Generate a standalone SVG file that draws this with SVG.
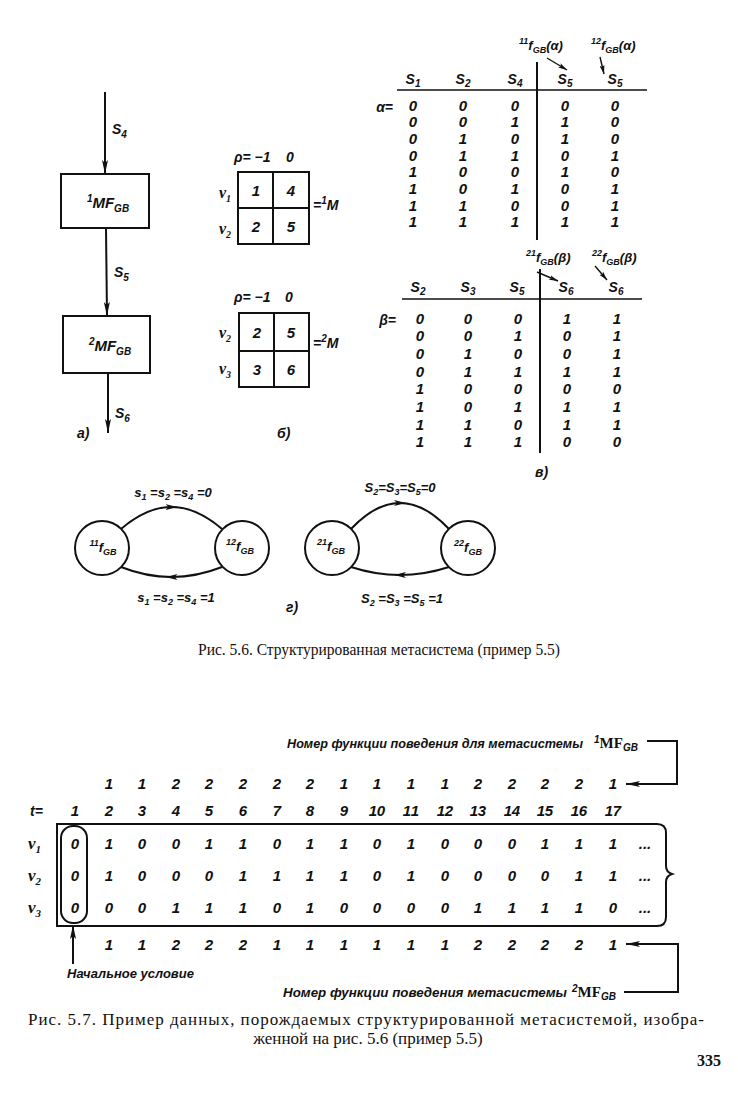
<svg xmlns="http://www.w3.org/2000/svg" width="738" height="1107" viewBox="0 0 738 1107">
<style>
text{fill:#111}
.i{font-family:"Liberation Sans",Arial,sans-serif;font-style:italic;font-weight:bold}
.s{font-family:"Liberation Serif","Times New Roman",serif}
.v{font-family:"Liberation Serif","Times New Roman",serif;font-style:italic;font-weight:bold}
.d{font-size:15px;text-anchor:middle}
.lab{font-size:14px}
.m{text-anchor:middle}
.ln{stroke:#111;stroke-width:2;fill:none}
.thin{stroke:#111;stroke-width:1.4;fill:none}
.bx{fill:none;stroke:#111;stroke-width:2}
.nd{fill:#fff;stroke:#111;stroke-width:2}
</style>
<defs>
<marker id="ah" viewBox="0 0 14 6" refX="14" refY="3" markerWidth="14" markerHeight="6" markerUnits="userSpaceOnUse" orient="auto"><path d="M0,0 L14,3 L0,6 L3,3 Z" fill="#111"/></marker>
<marker id="as" viewBox="0 0 9 5" refX="9" refY="2.5" markerWidth="9" markerHeight="5" markerUnits="userSpaceOnUse" orient="auto"><path d="M0,0 L9,2.5 L0,5 L2,2.5 Z" fill="#111"/></marker>
<marker id="am" viewBox="0 0 12 6" refX="6" refY="3" markerWidth="12" markerHeight="6" markerUnits="userSpaceOnUse" orient="auto"><path d="M0,0 L12,3 L0,6 L3,3 Z" fill="#111"/></marker>
</defs>
<rect width="738" height="1107" fill="#fff"/>

<!-- part a -->
<g id="a-connectors">
<line class="ln" x1="105" y1="92" x2="105" y2="174" marker-end="url(#ah)"/>
<line class="ln" x1="106" y1="228" x2="107" y2="316" marker-end="url(#ah)"/>
<line class="ln" x1="108" y1="373" x2="108" y2="433" marker-end="url(#ah)"/>
<text class="i lab" x="112" y="134">S<tspan font-size="10" dy="4">4</tspan></text>
<text class="i lab" x="114" y="277">S<tspan font-size="10" dy="4">5</tspan></text>
<text class="i lab" x="115" y="418">S<tspan font-size="10" dy="4">6</tspan></text>
</g>
<g id="mf1">
<rect class="bx" x="61" y="174" width="88" height="54"/>
<text class="i m" x="108" y="208" font-size="15"><tspan font-size="10" dy="-6">1</tspan><tspan dy="6">MF</tspan><tspan font-size="10" dy="4">GB</tspan></text>
</g>
<g id="mf2">
<rect class="bx" x="63" y="316" width="87" height="57"/>
<text class="i m" x="110" y="351" font-size="15"><tspan font-size="10" dy="-6">2</tspan><tspan dy="6">MF</tspan><tspan font-size="10" dy="4">GB</tspan></text>
</g>
<text class="i lab" x="77" y="438">а)</text>

<!-- part b -->
<g id="m1">
<text class="i lab" x="234" y="162">ρ= −1</text>
<text class="i lab m" x="290" y="162">0</text>
<rect class="bx" x="238" y="172" width="71" height="72"/>
<line class="ln" x1="273" y1="172" x2="273" y2="244"/>
<line class="ln" x1="238" y1="208" x2="309" y2="208"/>
<text class="i d" x="256 291" y="196">14</text>
<text class="i d" x="256 291" y="232">25</text>
<text class="v" x="219" y="198" font-size="16">v<tspan font-size="10" dy="4">1</tspan></text>
<text class="v" x="219" y="234" font-size="16">v<tspan font-size="10" dy="4">2</tspan></text>
<text class="i lab" x="313" y="210">=<tspan font-size="10" dy="-6">1</tspan><tspan dy="6">M</tspan></text>
</g>
<g id="m2">
<text class="i lab" x="234" y="302">ρ= −1</text>
<text class="i lab m" x="289" y="302">0</text>
<rect class="bx" x="239" y="313" width="70" height="74"/>
<line class="ln" x1="274" y1="313" x2="274" y2="387"/>
<line class="ln" x1="239" y1="351" x2="309" y2="351"/>
<text class="i d" x="257 291" y="338">25</text>
<text class="i d" x="257 291" y="375">36</text>
<text class="v" x="219" y="338" font-size="16">v<tspan font-size="10" dy="4">2</tspan></text>
<text class="v" x="219" y="374" font-size="16">v<tspan font-size="10" dy="4">3</tspan></text>
<text class="i lab" x="313" y="348">=<tspan font-size="10" dy="-6">2</tspan><tspan dy="6">M</tspan></text>
</g>
<text class="i lab" x="277" y="438">б)</text>

<!-- part v: alpha -->
<g id="alpha">
<text class="i lab" x="393" y="112" text-anchor="end" font-size="15">α=</text>
<text class="i m" x="413" y="84" font-size="14">S<tspan font-size="10" dy="3">1</tspan></text>
<text class="i m" x="463" y="84" font-size="14">S<tspan font-size="10" dy="3">2</tspan></text>
<text class="i m" x="515" y="84" font-size="14">S<tspan font-size="10" dy="3">4</tspan></text>
<text class="i m" x="565" y="84" font-size="14">S<tspan font-size="10" dy="3">5</tspan></text>
<text class="i m" x="615" y="84" font-size="14">S<tspan font-size="10" dy="3">5</tspan></text>
<line class="thin" x1="397" y1="90" x2="647" y2="90"/>
<line class="ln" x1="537" y1="62" x2="537" y2="240"/>
<text class="i" x="519" y="50" font-size="13"><tspan font-size="9" dy="-6">11</tspan><tspan dy="6">f</tspan><tspan font-size="9" dy="3">GB</tspan><tspan dy="-3">(α)</tspan></text>
<text class="i" x="591" y="50" font-size="13"><tspan font-size="9" dy="-6">12</tspan><tspan dy="6">f</tspan><tspan font-size="9" dy="3">GB</tspan><tspan dy="-3">(α)</tspan></text>
<line class="thin" x1="547" y1="58" x2="567" y2="70" marker-end="url(#as)"/>
<line class="thin" x1="600" y1="57" x2="604" y2="74" marker-end="url(#as)"/>
<text class="i d" x="413 438 463 489 515 540 565 590 615" y="110.5">0 0 0 0 0</text>
<text class="i d" x="413 438 463 489 515 540 565 590 615" y="127.2">0 0 1 1 0</text>
<text class="i d" x="413 438 463 489 515 540 565 590 615" y="143.9">0 1 0 1 0</text>
<text class="i d" x="413 438 463 489 515 540 565 590 615" y="160.6">0 1 1 0 1</text>
<text class="i d" x="413 438 463 489 515 540 565 590 615" y="177.3">1 0 0 1 0</text>
<text class="i d" x="413 438 463 489 515 540 565 590 615" y="194">1 0 1 0 1</text>
<text class="i d" x="413 438 463 489 515 540 565 590 615" y="210.7">1 1 0 0 1</text>
<text class="i d" x="413 438 463 489 515 540 565 590 615" y="227.4">1 1 1 1 1</text>
</g>
<!-- beta -->
<g id="beta">
<text class="i lab" x="396" y="325" text-anchor="end" font-size="15">β=</text>
<text class="i m" x="418" y="292" font-size="14">S<tspan font-size="10" dy="3">2</tspan></text>
<text class="i m" x="468" y="292" font-size="14">S<tspan font-size="10" dy="3">3</tspan></text>
<text class="i m" x="517" y="292" font-size="14">S<tspan font-size="10" dy="3">5</tspan></text>
<text class="i m" x="566" y="292" font-size="14">S<tspan font-size="10" dy="3">6</tspan></text>
<text class="i m" x="616" y="292" font-size="14">S<tspan font-size="10" dy="3">6</tspan></text>
<line class="thin" x1="402" y1="299" x2="642" y2="299"/>
<line class="ln" x1="540" y1="269" x2="540" y2="453"/>
<text class="i" x="526" y="262" font-size="13"><tspan font-size="9" dy="-6">21</tspan><tspan dy="6">f</tspan><tspan font-size="9" dy="3">GB</tspan><tspan dy="-3">(β)</tspan></text>
<text class="i" x="592" y="262" font-size="13"><tspan font-size="9" dy="-6">22</tspan><tspan dy="6">f</tspan><tspan font-size="9" dy="3">GB</tspan><tspan dy="-3">(β)</tspan></text>
<line class="thin" x1="537" y1="272" x2="558" y2="281" marker-end="url(#as)"/>
<line class="thin" x1="595" y1="266" x2="607" y2="280" marker-end="url(#as)"/>
<text class="i d" x="420 444 468 493 518 542 567 592 617" y="323.5">0 0 0 1 1</text>
<text class="i d" x="420 444 468 493 518 542 567 592 617" y="341.2">0 0 1 0 1</text>
<text class="i d" x="420 444 468 493 518 542 567 592 617" y="358.9">0 1 0 0 1</text>
<text class="i d" x="420 444 468 493 518 542 567 592 617" y="376.6">0 1 1 1 1</text>
<text class="i d" x="420 444 468 493 518 542 567 592 617" y="394.3">1 0 0 0 0</text>
<text class="i d" x="420 444 468 493 518 542 567 592 617" y="412">1 0 1 1 1</text>
<text class="i d" x="420 444 468 493 518 542 567 592 617" y="429.7">1 1 0 1 1</text>
<text class="i d" x="420 444 468 493 518 542 567 592 617" y="447.4">1 1 1 0 0</text>
</g>
<text class="i lab" x="535" y="477">в)</text>

<!-- part g -->
<g id="g-connectors">
<path class="ln" d="M121,529 Q146.25,507 171.5,507 Q196.75,507 222,529" marker-mid="url(#am)"/>
<path class="ln" d="M222,567 Q196.75,577 171.5,577 Q146.25,577 121,567" marker-mid="url(#am)"/>
<path class="ln" d="M351,529 Q375.5,503 400,503 Q424.5,503 449,529" marker-mid="url(#am)"/>
<path class="ln" d="M449,567 Q424.5,575 400,575 Q375.5,575 351,567" marker-mid="url(#am)"/>
<text class="i m" x="173" y="497" font-size="13">s<tspan font-size="9" dy="3">1</tspan><tspan dy="-3"> =s</tspan><tspan font-size="9" dy="3">2</tspan><tspan dy="-3"> =s</tspan><tspan font-size="9" dy="3">4</tspan><tspan dy="-3"> =0</tspan></text>
<text class="i m" x="176" y="602" font-size="13">s<tspan font-size="9" dy="3">1</tspan><tspan dy="-3"> =s</tspan><tspan font-size="9" dy="3">2</tspan><tspan dy="-3"> =s</tspan><tspan font-size="9" dy="3">4</tspan><tspan dy="-3"> =1</tspan></text>
<text class="i m" x="400" y="492" font-size="13">S<tspan font-size="9" dy="3">2</tspan><tspan dy="-3">=S</tspan><tspan font-size="9" dy="3">3</tspan><tspan dy="-3">=S</tspan><tspan font-size="9" dy="3">5</tspan><tspan dy="-3">=0</tspan></text>
<text class="i m" x="402" y="603" font-size="13">S<tspan font-size="9" dy="3">2</tspan><tspan dy="-3"> =S</tspan><tspan font-size="9" dy="3">3</tspan><tspan dy="-3"> =S</tspan><tspan font-size="9" dy="3">5</tspan><tspan dy="-3"> =1</tspan></text>
</g>
<g id="f11"><circle class="nd" cx="102" cy="548" r="27"/><text class="i m" x="103" y="552" font-size="13"><tspan font-size="9" dy="-6">11</tspan><tspan dy="6">f</tspan><tspan font-size="9" dy="3">GB</tspan></text></g>
<g id="f12"><circle class="nd" cx="242" cy="548" r="27"/><text class="i m" x="240" y="551" font-size="13"><tspan font-size="9" dy="-6">12</tspan><tspan dy="6">f</tspan><tspan font-size="9" dy="3">GB</tspan></text></g>
<g id="f21"><circle class="nd" cx="332" cy="548" r="27"/><text class="i m" x="331" y="551" font-size="13"><tspan font-size="9" dy="-6">21</tspan><tspan dy="6">f</tspan><tspan font-size="9" dy="3">GB</tspan></text></g>
<g id="f22"><circle class="nd" cx="468" cy="548" r="27"/><text class="i m" x="468" y="552" font-size="13"><tspan font-size="9" dy="-6">22</tspan><tspan dy="6">f</tspan><tspan font-size="9" dy="3">GB</tspan></text></g>
<text class="i lab" x="286" y="612">г)</text>

<text class="s" x="198" y="655" font-size="16" textLength="362" lengthAdjust="spacingAndGlyphs">Рис. 5.6. Структурированная метасистема (пример 5.5)</text>

<!-- fig 5.7 -->
<g id="top-label">
<text class="i" x="287" y="748" font-size="13" textLength="296" lengthAdjust="spacingAndGlyphs">Номер функции поведения для метасистемы</text>
<text x="594" y="748" font-size="15"><tspan class="i" font-size="10" dy="-5">1</tspan><tspan class="s" font-weight="bold" dy="5">MF</tspan><tspan class="i" font-size="10" dy="3">GB</tspan></text>
</g>
<g id="connectors-57">
<polyline class="ln" points="647,741 677,741 677,784 626,784" marker-end="url(#ah)"/>
<polyline class="ln" points="624,992 678,992 678,944 626,944" marker-end="url(#ah)"/>
<line class="ln" x1="73" y1="964" x2="73" y2="925" marker-end="url(#ah)"/>
</g>
<g id="data-table">
<text class="i d" x="109 125 142 159 176 192 209 226 243 260 277 293 310 327 344 360 377 394 411 428 445 461 478 495 512 528 545 562 579 596 613" y="789">1 1 2 2 2 2 2 1 1 1 1 2 2 2 2 1</text>
<text class="i lab" x="30" y="816" font-size="15">t=</text>
<text class="i d" x="75 92 109 125 142 159 176 192 209 226 243 260 277 293 310 327 344 360 373 381 394 407 415 428 441 449 461 474 482 495 508 516 528 541 549 562 575 583 596 609 617" y="816">1 2 3 4 5 6 7 8 9 10 11 12 13 14 15 16 17</text>
<path class="bx" d="M57,824 H657 Q666,824 666,833 V866 Q666,872 672,874 Q666,876 666,882 V917 Q666,926 657,926 H57 Z"/>
<rect class="bx" x="61" y="826" width="26" height="97" rx="12"/>
<text class="v" x="28" y="849" font-size="17">v<tspan font-size="11" dy="4">1</tspan></text>
<text class="v" x="28" y="881" font-size="17">v<tspan font-size="11" dy="4">2</tspan></text>
<text class="v" x="28" y="913" font-size="17">v<tspan font-size="11" dy="4">3</tspan></text>
<text class="i d" x="75 92 109 125 142 159 176 192 209 226 243 260 277 293 310 327 344 360 377 394 411 428 445 461 478 495 512 528 545 562 579 596 613" y="849">0 1 0 0 1 1 0 1 1 0 1 0 0 0 1 1 1</text>
<text class="i d" x="75 92 109 125 142 159 176 192 209 226 243 260 277 293 310 327 344 360 377 394 411 428 445 461 478 495 512 528 545 562 579 596 613" y="881">0 1 0 0 0 1 1 1 1 0 1 0 0 0 0 1 1</text>
<text class="i d" x="75 92 109 125 142 159 176 192 209 226 243 260 277 293 310 327 344 360 377 394 411 428 445 461 478 495 512 528 545 562 579 596 613" y="913">0 0 0 1 1 1 0 1 0 0 0 0 1 1 1 1 0</text>
<text class="i d" x="645" y="849">...</text>
<text class="i d" x="645" y="881">...</text>
<text class="i d" x="645" y="913">...</text>
<text class="i d" x="109 125 142 159 176 192 209 226 243 260 277 293 310 327 344 360 377 394 411 428 445 461 478 495 512 528 545 562 579 596 613" y="950">1 1 2 2 2 1 1 1 1 1 1 2 2 2 2 1</text>
</g>
<text class="i" x="67" y="978" font-size="13">Начальное условие</text>
<g id="bottom-label">
<text class="i" x="283" y="997" font-size="13" textLength="284" lengthAdjust="spacingAndGlyphs">Номер функции  поведения метасистемы</text>
<text x="572" y="997" font-size="15"><tspan class="i" font-size="10" dy="-5">2</tspan><tspan class="s" font-weight="bold" dy="5">MF</tspan><tspan class="i" font-size="10" dy="3">GB</tspan></text>
</g>
<text class="s" x="28" y="1025" font-size="17" textLength="676" lengthAdjust="spacing">Рис. 5.7. Пример данных, порождаемых структурированной метасистемой, изобра-</text>
<text class="s m" x="368" y="1044" font-size="17">женной на рис. 5.6 (пример 5.5)</text>
<text class="s" x="721" y="1066" font-size="16" font-weight="bold" text-anchor="end">335</text>
</svg>
